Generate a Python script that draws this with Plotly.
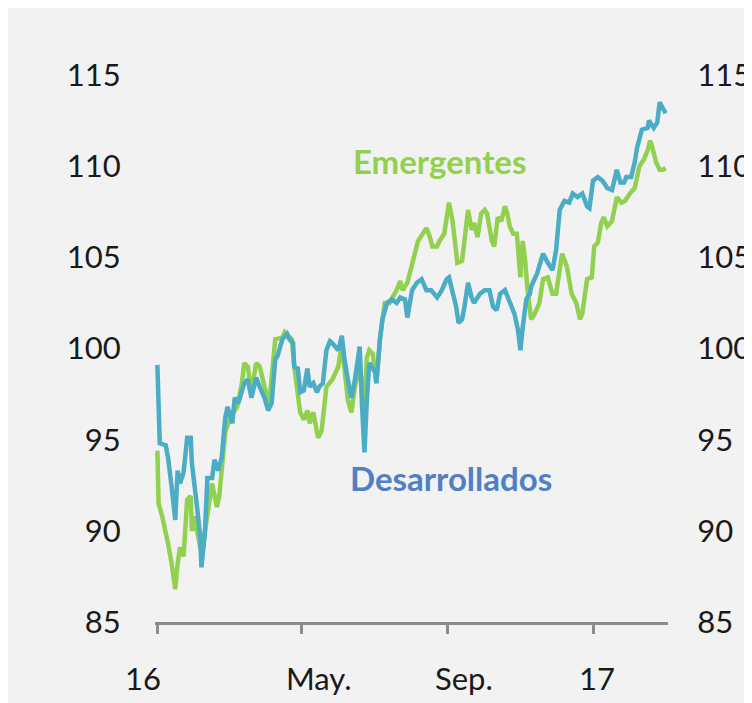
import plotly.graph_objects as go

# ---------------- data ----------------
des_dates = ["2016-01-01","2016-01-03","2016-01-08","2016-01-10","2016-01-13","2016-01-16","2016-01-18","2016-01-20",
             "2016-01-23","2016-01-26","2016-01-29","2016-01-30","2016-02-03","2016-02-06","2016-02-07","2016-02-10",
             "2016-02-12","2016-02-16","2016-02-18","2016-02-21","2016-02-24","2016-02-27","2016-02-29","2016-03-04",
             "2016-03-06","2016-03-09","2016-03-14","2016-03-17","2016-03-20","2016-03-24","2016-03-27","2016-03-31",
             "2016-04-03","2016-04-06","2016-04-09","2016-04-11","2016-04-15","2016-04-19","2016-04-21","2016-04-24",
             "2016-04-25","2016-04-28","2016-04-30","2016-05-03","2016-05-06","2016-05-08","2016-05-11","2016-05-14",
             "2016-05-16","2016-05-19","2016-05-22","2016-05-25","2016-05-27","2016-06-01","2016-06-04","2016-06-06",
             "2016-06-09","2016-06-12","2016-06-15","2016-06-19","2016-06-21","2016-06-23","2016-06-25","2016-06-27",
             "2016-07-02","2016-07-03","2016-07-06","2016-07-08","2016-07-12","2016-07-16","2016-07-20","2016-07-23",
             "2016-07-27","2016-07-29","2016-08-02","2016-08-06","2016-08-10","2016-08-14","2016-08-18","2016-08-23",
             "2016-08-27","2016-08-31","2016-09-02","2016-09-05","2016-09-08","2016-09-10","2016-09-13","2016-09-15",
             "2016-09-18","2016-09-21","2016-09-23","2016-09-28","2016-10-02","2016-10-06","2016-10-09","2016-10-12",
             "2016-10-15","2016-10-19","2016-10-23","2016-10-27","2016-10-30","2016-11-01","2016-11-03","2016-11-06",
             "2016-11-09","2016-11-10","2016-11-15","2016-11-20","2016-11-24","2016-11-28","2016-12-01","2016-12-04",
             "2016-12-08","2016-12-12","2016-12-15","2016-12-19","2016-12-23","2016-12-27","2016-12-29","2017-01-01",
             "2017-01-05","2017-01-09","2017-01-13","2017-01-17","2017-01-21","2017-01-24","2017-01-27","2017-01-29",
             "2017-02-02","2017-02-05","2017-02-07","2017-02-11","2017-02-16","2017-02-17","2017-02-21","2017-02-24",
             "2017-02-26","2017-03-01","2017-03-03"]
des_values = [99.1,94.8,94.7,94.0,92.4,90.6,93.3,92.6,
              93.2,95.1,95.1,93.7,91.5,89.7,88.0,90.0,
              92.9,92.9,93.9,93.3,94.0,96.2,96.8,95.9,
              97.3,97.0,98.1,98.3,97.3,98.4,97.9,97.3,
              96.6,97.0,99.4,99.6,100.5,100.8,100.5,100.3,
              99.0,98.9,97.6,97.7,98.9,97.9,98.1,97.6,
              97.9,98.1,99.9,100.4,100.3,99.9,100.7,99.5,
              98.3,97.3,98.3,100.1,96.8,94.3,97.2,99.2,
              98.7,98.1,100.5,101.6,102.5,102.7,102.5,102.8,
              102.7,101.7,103.2,103.6,103.8,103.2,103.2,102.8,
              103.2,103.8,103.9,103.2,102.3,101.4,101.6,102.3,
              103.6,102.8,102.5,103.0,103.2,103.2,102.3,102.1,
              103.0,103.2,102.5,101.9,101.0,99.9,101.2,102.7,
              103.0,103.4,104.1,105.2,104.7,104.3,105.4,107.6,
              108.1,108.0,108.5,108.3,108.5,107.8,107.7,109.2,
              109.4,109.2,108.8,108.7,109.8,109.1,109.1,109.4,
              109.4,110.2,111.0,112.0,112.1,112.5,112.1,112.4,
              113.5,113.1,112.9]

emg_dates = ["2016-01-01","2016-01-02","2016-01-05","2016-01-08","2016-01-10","2016-01-13","2016-01-16","2016-01-18",
             "2016-01-20","2016-01-23","2016-01-26","2016-01-29","2016-01-30","2016-02-01","2016-02-06","2016-02-08",
             "2016-02-10","2016-02-16","2016-02-20","2016-02-22","2016-02-27","2016-03-02","2016-03-08","2016-03-12",
             "2016-03-14","2016-03-17","2016-03-20","2016-03-24","2016-03-27","2016-03-31","2016-04-04","2016-04-09",
             "2016-04-15","2016-04-17","2016-04-23","2016-04-25","2016-04-30","2016-05-03","2016-05-06","2016-05-08",
             "2016-05-11","2016-05-15","2016-05-18","2016-05-22","2016-05-27","2016-06-01","2016-06-04","2016-06-06",
             "2016-06-09","2016-06-12","2016-06-15","2016-06-19","2016-06-23","2016-06-25","2016-06-27","2016-06-30",
             "2016-07-03","2016-07-06","2016-07-10","2016-07-14","2016-07-20","2016-07-23","2016-07-25","2016-07-29",
             "2016-08-02","2016-08-07","2016-08-11","2016-08-14","2016-08-17","2016-08-19","2016-08-23","2016-08-25",
             "2016-08-29","2016-09-01","2016-09-02","2016-09-05","2016-09-07","2016-09-09","2016-09-13","2016-09-15",
             "2016-09-18","2016-09-21","2016-09-23","2016-09-26","2016-09-29","2016-10-02","2016-10-04","2016-10-08",
             "2016-10-10","2016-10-13","2016-10-16","2016-10-19","2016-10-21","2016-10-23","2016-10-26","2016-10-29",
             "2016-11-01","2016-11-02","2016-11-03","2016-11-05","2016-11-07","2016-11-10","2016-11-13","2016-11-17",
             "2016-11-20","2016-11-24","2016-11-28","2016-12-01","2016-12-06","2016-12-10","2016-12-14","2016-12-18",
             "2016-12-21","2016-12-23","2016-12-27","2016-12-31","2017-01-02","2017-01-05","2017-01-08","2017-01-10",
             "2017-01-13","2017-01-17","2017-01-21","2017-01-25","2017-01-28","2017-02-01","2017-02-05","2017-02-09",
             "2017-02-13","2017-02-16","2017-02-18","2017-02-20","2017-02-23","2017-02-26","2017-03-01","2017-03-03"]
emg_values = [94.4,91.5,90.8,90.0,89.3,88.2,86.8,88.2,
              89.1,88.6,91.7,91.9,90.0,90.8,89.1,88.8,
              90.0,92.6,91.3,91.9,95.4,96.2,96.8,98.1,
              99.2,99.0,97.6,99.2,99.0,97.9,97.0,100.5,
              100.6,100.9,100.5,99.0,96.5,96.1,96.6,95.9,
              96.5,95.1,95.5,97.9,98.3,99.0,100.3,99.0,
              97.2,96.5,97.9,99.0,97.0,99.5,99.9,99.7,
              98.1,100.5,102.5,102.5,103.2,103.7,103.2,103.6,
              104.6,105.9,106.3,106.6,106.1,105.6,105.6,105.9,
              106.3,107.6,108.0,107.0,105.6,104.7,104.8,105.9,
              107.6,106.5,106.9,106.1,107.4,107.6,107.4,105.9,
              105.6,107.2,107.0,107.8,107.4,106.7,106.3,106.3,
              103.9,105.0,105.9,104.8,103.2,101.6,101.9,102.5,
              103.8,103.9,103.0,103.0,105.2,104.5,103.0,102.5,
              101.6,101.9,103.8,103.9,105.6,105.8,106.9,107.2,
              106.7,107.0,108.3,108.0,108.1,108.5,108.8,110.0,
              110.4,110.9,111.4,111.0,110.2,109.8,109.8,109.9]

tick_dates = ["2016-01-01","2016-05-01","2016-09-01","2017-01-01"]
tick_labels = ["16","May.","Sep.","17"]
y_ticks = [85, 90, 95, 100, 105, 110, 115]

series_names = ["Emergentes", "Desarrollados"]
# --------------------------------------

GREEN = "#92d050"
BLUE = "#4bacc6"
LABEL_BLUE = "#4f7fc7"
TXT = "#1a1a1a"
FONT = "Lato, 'Open Sans', sans-serif"
label_shifts = [-14, 18, 16, 4]  # pixel offsets of the date labels from their ticks

fig = go.Figure()
fig.add_trace(go.Scatter(x=emg_dates, y=emg_values, mode="lines", name=series_names[0],
                         line=dict(color=GREEN, width=4.5)))
fig.add_trace(go.Scatter(x=des_dates, y=des_values, mode="lines", name=series_names[1],
                         line=dict(color=BLUE, width=4.5)))
# invisible trace for right axis
fig.add_trace(go.Scatter(x=[des_dates[0]], y=[des_values[0]], yaxis="y2", mode="lines",
                         line=dict(width=0), showlegend=False, hoverinfo="skip"))

annotations = []
for d, t, s in zip(tick_dates, tick_labels, label_shifts):
    annotations.append(dict(x=d, y=0, xref="x", yref="paper", text=t, showarrow=False,
                            xanchor="center", yanchor="middle", xshift=s, yshift=-56,
                            font=dict(family=FONT, size=31, color=TXT)))
annotations.append(dict(x="2016-08-25", y=110.3, xref="x", yref="y", text="<b>Emergentes</b>",
                        showarrow=False, font=dict(family=FONT, size=33, color=GREEN)))
annotations.append(dict(x="2016-09-04", y=92.9, xref="x", yref="y", text="<b>Desarrollados</b>",
                        showarrow=False, font=dict(family=FONT, size=33, color=LABEL_BLUE)))

fig.update_layout(
    width=752, height=703,
    margin=dict(l=147, r=92, t=67, b=89),
    paper_bgcolor="#f2f2f2",
    plot_bgcolor="rgba(0,0,0,0)",
    showlegend=False,
    annotations=annotations,
    xaxis=dict(type="date", range=["2015-12-30", "2017-03-05"], tickvals=tick_dates,
               ticktext=["", "", "", ""], showgrid=False, zeroline=False, automargin=False,
               showline=True, linecolor="#8c8c8c", linewidth=3,
               ticks="outside", ticklen=9, tickwidth=3, tickcolor="#8c8c8c"),
    yaxis=dict(range=[85, 115], tickvals=y_ticks, showgrid=False, zeroline=False, showline=False,
               automargin=False, ticks="outside", ticklen=27, tickcolor="rgba(0,0,0,0)",
               tickfont=dict(family=FONT, size=31, color=TXT)),
    yaxis2=dict(range=[85, 115], tickvals=y_ticks, overlaying="y", side="right", showgrid=False,
                automargin=False, zeroline=False, showline=False, ticks="outside", ticklen=22,
                tickcolor="rgba(0,0,0,0)",
                tickfont=dict(family=FONT, size=31, color=TXT)),
)

fig.write_html("out.html")
